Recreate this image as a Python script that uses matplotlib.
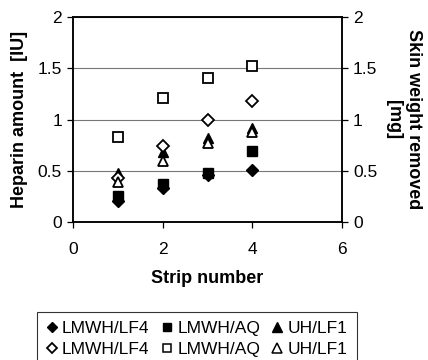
import matplotlib
matplotlib.use("Agg")
import matplotlib.pyplot as plt
from matplotlib.lines import Line2D

plt.rcParams['font.family'] = ['Liberation Sans', 'DejaVu Sans']

# strip number
strips = [1, 2, 3, 4]

# heparin amount [IU] (filled markers, left axis)
hep_lmwh_lf4 = [0.21, 0.33, 0.46, 0.51]
hep_lmwh_aq = [0.25, 0.37, 0.48, 0.69]
hep_uh_lf1 = [0.48, 0.68, 0.82, 0.92]

# skin weight removed [mg] (open markers, right axis)
skin_lmwh_lf4 = [0.43, 0.74, 1.00, 1.18]
skin_lmwh_aq = [0.83, 1.21, 1.40, 1.52]
skin_uh_lf1 = [0.39, 0.60, 0.77, 0.88]

labels = ['LMWH/LF4', 'LMWH/AQ', 'UH/LF1']

fig = plt.figure(figsize=(4.28, 3.6), dpi=100)
ax = fig.add_axes([0.171, 0.383, 0.628, 0.570])
ax2 = ax.twinx()

ms = 6.5
ax.plot(strips, hep_lmwh_lf4, 'D', color='black', ms=ms - 0.5, ls='none')
ax.plot(strips, hep_lmwh_aq, 's', color='black', ms=ms, ls='none')
ax.plot(strips, hep_uh_lf1, '^', color='black', ms=ms + 1, ls='none')
ax2.plot(strips, skin_lmwh_lf4, 'D', mfc='white', mec='black', mew=1.3, ms=ms - 0.5, ls='none')
ax2.plot(strips, skin_lmwh_aq, 's', mfc='white', mec='black', mew=1.3, ms=ms + 1, ls='none')
ax2.plot(strips, skin_uh_lf1, '^', mfc='white', mec='black', mew=1.3, ms=ms + 1, ls='none')

for a in (ax, ax2):
    a.set_ylim(0, 2)
    a.set_yticks([0, 0.5, 1, 1.5, 2])
    a.set_yticklabels(['0', '0.5', '1', '1.5', '2'])
    a.tick_params(labelsize=12.5, length=4, width=0.9, direction='out', pad=4)
    for s in a.spines.values():
        s.set_linewidth(1.1)

ax.set_xlim(0, 6)
ax.set_xticks([0, 2, 4, 6])
ax.tick_params(axis='x', pad=10)
ax.yaxis.grid(True, color='#777777', lw=0.8)
ax.set_axisbelow(True)

ax.set_xlabel('Strip number', fontsize=13, fontweight='bold', labelpad=10)
ax.set_ylabel('Heparin amount  [IU]', fontsize=13, fontweight='bold', labelpad=7)
ax2.set_ylabel('Skin weight removed\n[mg]', fontsize=13, fontweight='bold',
               rotation=270, labelpad=32)

handles = [
    Line2D([], [], marker='D', color='black', ls='none', ms=5),
    Line2D([], [], marker='D', mfc='white', mec='black', mew=1.3, ls='none', ms=5),
    Line2D([], [], marker='s', color='black', ls='none', ms=6),
    Line2D([], [], marker='s', mfc='white', mec='black', mew=1.1, ls='none', ms=6),
    Line2D([], [], marker='^', color='black', ls='none', ms=6.5),
    Line2D([], [], marker='^', mfc='white', mec='black', mew=1.1, ls='none', ms=6.5),
]
leg_labels = [labels[0], labels[0], labels[1], labels[1], labels[2], labels[2]]
leg = fig.legend(handles, leg_labels, ncol=3, loc='upper left',
                 bbox_to_anchor=(0.086, 0.134), borderaxespad=0, fontsize=12.5,
                 frameon=True, fancybox=False, edgecolor='black',
                 handlelength=0.6, handletextpad=0.3, columnspacing=0.7,
                 labelspacing=0.3, borderpad=0.55)
leg.get_frame().set_linewidth(0.8)

fig.savefig('out.png', dpi=100)
